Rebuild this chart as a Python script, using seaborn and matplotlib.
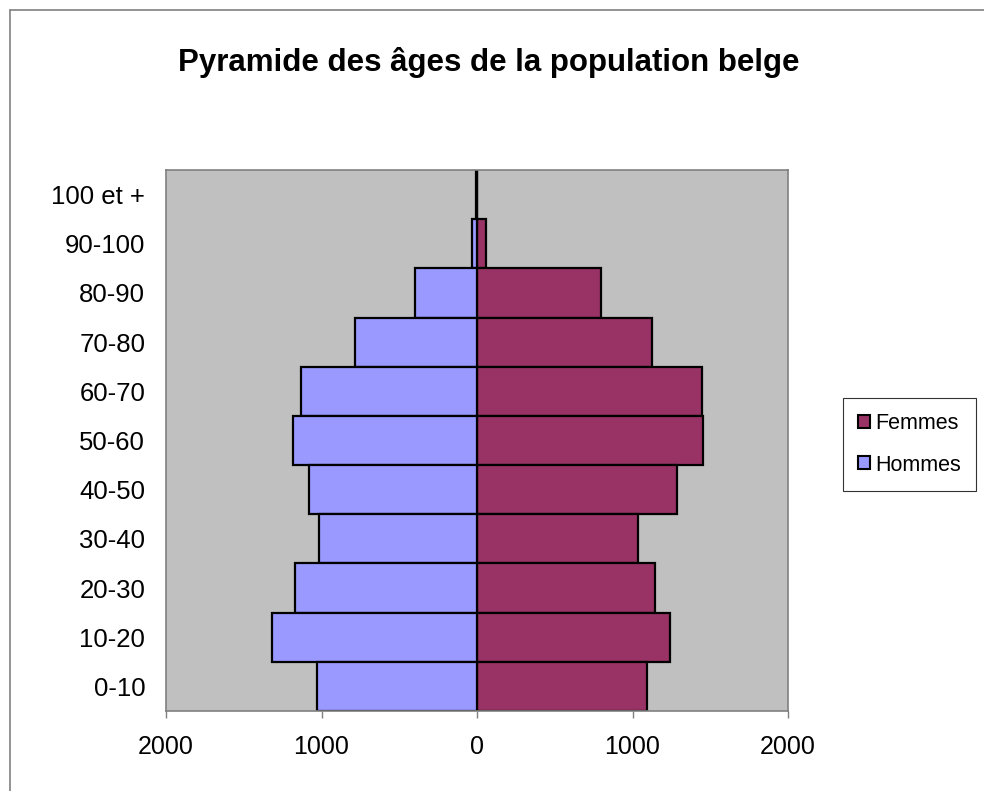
import pandas as pd
import numpy as np
import seaborn as sns
import matplotlib.pyplot as plt
from matplotlib.patches import Patch
from matplotlib.lines import Line2D

# Données, de 0-10 à 100 et +
ages = ["0-10", "10-20", "20-30", "30-40", "40-50", "50-60",
        "60-70", "70-80", "80-90", "90-100", "100 et +"]
hommes = [1027, 1316, 1173, 1016, 1080, 1185, 1132, 785, 398, 30, 4]
femmes = [1091, 1241, 1143, 1035, 1284, 1455, 1449, 1127, 795, 58, 3]
x_ticks = [-2000, -1000, 0, 1000, 2000]
x_labels = ["2000", "1000", "0", "1000", "2000"]

sns.set_theme(style="white")
plt.rcParams["font.family"] = ["Liberation Sans", "DejaVu Sans"]
plt.rcParams["text.color"] = "black"
plt.rcParams["xtick.labelcolor"] = "black"
plt.rcParams["ytick.labelcolor"] = "black"

# Tableau long, hommes en négatif
df = pd.DataFrame({
    "Age": ages * 2,
    "Sexe": ["Hommes"] * len(ages) + ["Femmes"] * len(ages),
    "Pop": [-v for v in hommes] + femmes,
})

colors = {"Femmes": "#993366", "Hommes": "#9999FF"}

fig = plt.figure(figsize=(9.84, 7.91), dpi=100)
ax = fig.add_axes([166 / 984, 80 / 791, 622 / 984, 541 / 791])
ax.set_facecolor("#C0C0C0")

sns.barplot(data=df, x="Pop", y="Age", hue="Sexe", order=ages[::-1],
            hue_order=["Femmes", "Hommes"], palette=colors, dodge=False,
            width=1.0, saturation=1, edgecolor="black", linewidth=1.6,
            errorbar=None, legend=False, ax=ax)

ax.set_xlim(-2000, 2000)
ax.set_xticks(x_ticks)
ax.set_xticklabels(x_labels)
ax.set_xlabel("")
ax.set_ylabel("")
ax.tick_params(axis="x", direction="out", length=5, width=1, color="#808080",
               labelsize=18, pad=12, bottom=True)
ax.tick_params(axis="y", length=0, labelsize=18.5, pad=15)
for s in ax.spines.values():
    s.set_color("#808080")
    s.set_linewidth(1.2)

fig.text(0.497, 1 - 70.7 / 791, "Pyramide des âges de la population belge",
         ha="center", va="baseline", fontsize=22.5, fontweight="bold")

handles = [Patch(facecolor=colors["Femmes"], edgecolor="black", lw=1.5, label="Femmes"),
           Patch(facecolor=colors["Hommes"], edgecolor="black", lw=1.5, label="Hommes")]
leg = fig.legend(handles=handles, loc="upper left", bbox_to_anchor=(843 / 984, 1 - 398 / 791),
                 fontsize=15.5, handlelength=0.55, handleheight=0.55, handletextpad=0.25,
                 labelspacing=0.95, borderpad=0.7, borderaxespad=0, fancybox=False,
                 frameon=True)
leg.get_frame().set_edgecolor("black")
leg.get_frame().set_linewidth(0.8)

# cadre du graphique
fig.add_artist(Line2D([10 / 984, 10 / 984], [0, 1 - 10 / 791], color="#808080", lw=1.2))
fig.add_artist(Line2D([10 / 984, 1], [1 - 10 / 791, 1 - 10 / 791], color="#808080", lw=1.2))

fig.savefig("out.png", dpi=100)
plt.close()
